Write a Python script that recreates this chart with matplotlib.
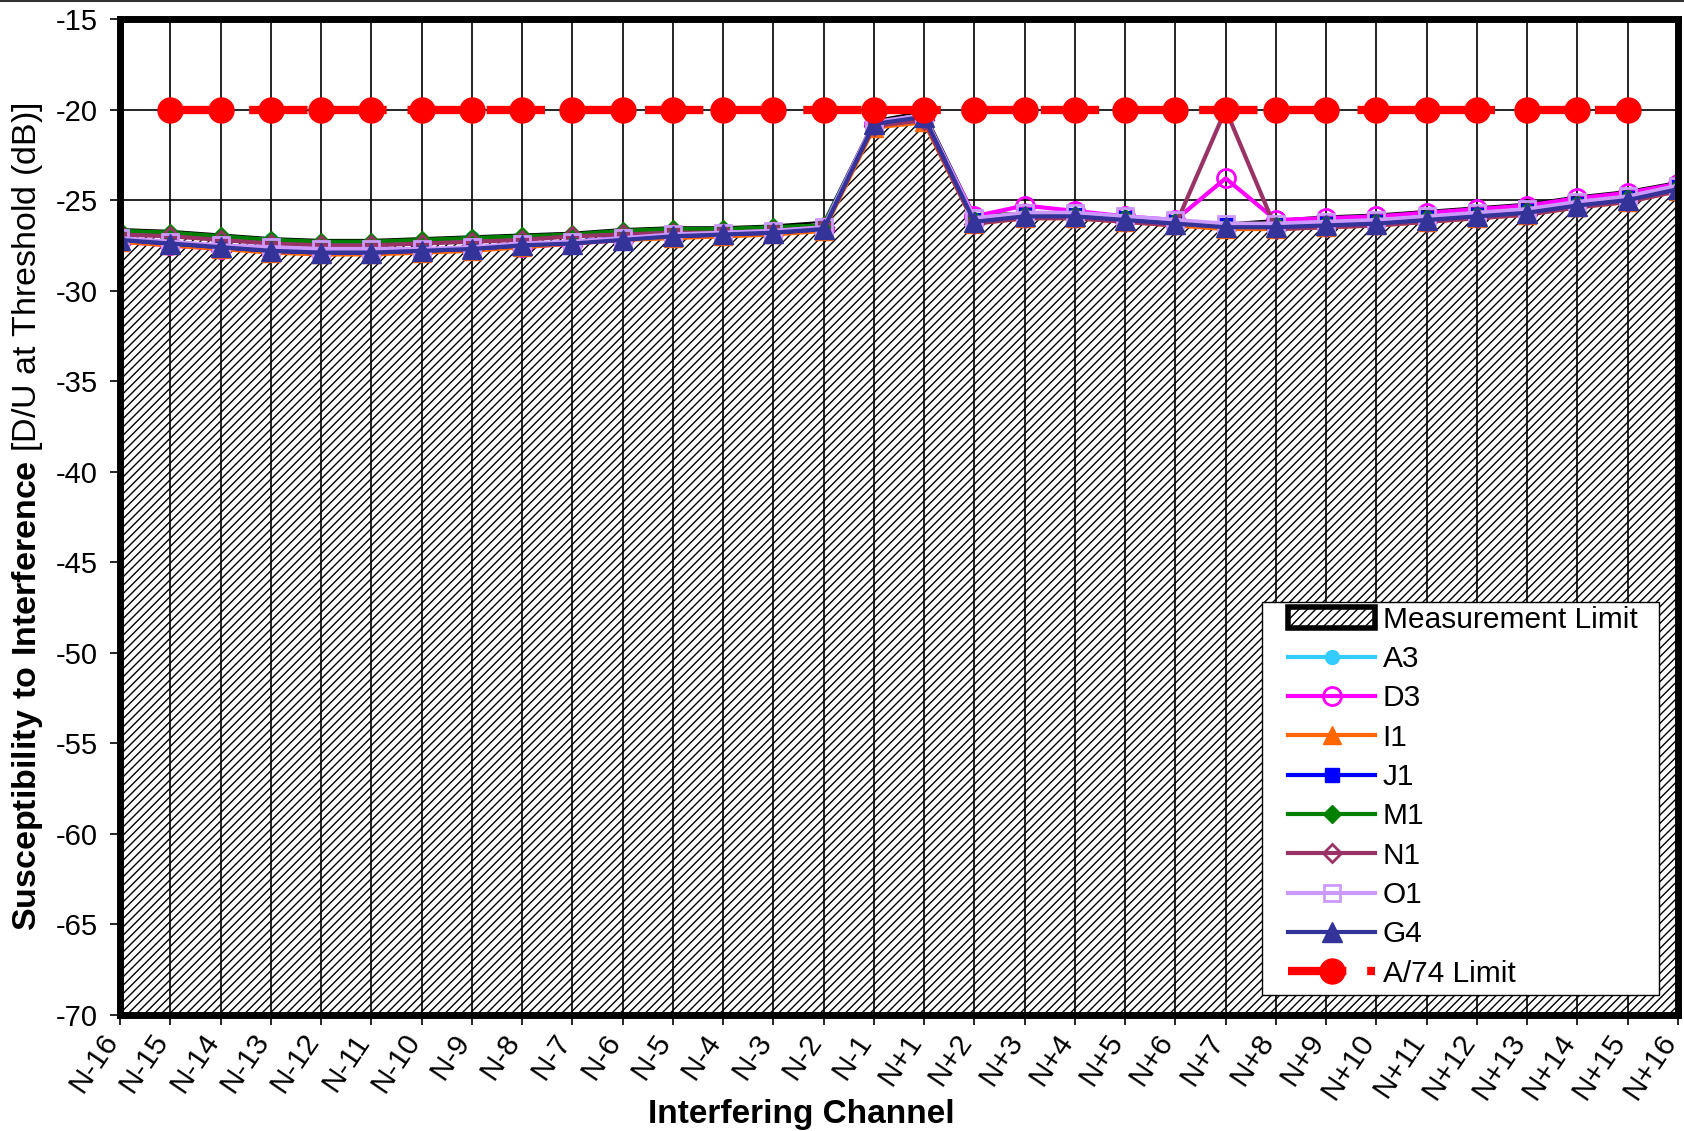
import numpy as np
import matplotlib
matplotlib.use("Agg")
import matplotlib.pyplot as plt
import matplotlib.transforms as mtransforms
from matplotlib.patches import Patch, Rectangle
from matplotlib.lines import Line2D

plt.rcParams['font.family'] = ['Liberation Sans', 'DejaVu Sans']
plt.rcParams['mathtext.fontset'] = 'custom'
plt.rcParams['mathtext.rm'] = 'Liberation Sans'
plt.rcParams['mathtext.bf'] = 'Liberation Sans:bold'
plt.rcParams['hatch.linewidth'] = 1.0
plt.rcParams['axes.unicode_minus'] = False

# channels
channels = [f"N-{i}" for i in range(16, 0, -1)] + [f"N+{i}" for i in range(1, 17)]

# values (dB)
meas_limit = [-26.6, -26.7, -26.9, -27.1, -27.2, -27.2, -27.1, -27.0, -26.9, -26.8, -26.6, -26.5, -26.5, -26.4, -26.2, -20.6,
              -20.1, -25.8, -25.7, -25.7, -25.9, -26.1, -26.3, -26.1, -25.9, -25.8, -25.6, -25.4, -25.2, -24.8, -24.5, -24.0]
a3 = [-26.8, -26.9, -27.1, -27.2, -27.4, -27.4, -27.3, -27.1, -27.1, -27.0, -26.8, -26.7, -26.7, -26.6, -26.4, -20.8,
      -20.5, -26.2, -25.9, -25.9, -26.1, -26.3, -26.6, -26.5, -26.4, -26.3, -26.1, -25.9, -25.7, -25.3, -25.0, -24.4]
d3 = [-27.3, -27.5, -27.7, -27.8, -27.9, -27.9, -27.8, -27.7, -27.6, -27.4, -27.2, -27.0, -26.9, -26.8, -26.6, -20.8,
      -20.4, -25.9, -25.3, -25.6, -25.9, -26.1, -23.8, -26.1, -26.0, -25.9, -25.7, -25.5, -25.3, -24.9, -24.6, -24.1]
i1 = [-27.3, -27.5, -27.7, -27.9, -28.0, -28.0, -27.9, -27.8, -27.6, -27.4, -27.2, -27.1, -27.0, -26.9, -26.7, -21.0,
      -20.7, -26.3, -26.0, -26.0, -26.2, -26.4, -26.6, -26.6, -26.5, -26.4, -26.2, -26.0, -25.8, -25.4, -25.1, -24.5]
j1 = [-27.2, -27.4, -27.6, -27.8, -27.9, -27.9, -27.8, -27.7, -27.5, -27.3, -27.1, -27.0, -26.9, -26.8, -26.6, -20.8,
      -20.5, -26.1, -25.8, -25.8, -26.0, -26.2, -26.4, -26.4, -26.3, -26.2, -26.0, -25.8, -25.6, -25.2, -24.9, -24.3]
m1 = [-26.7, -26.8, -27.0, -27.2, -27.3, -27.3, -27.2, -27.1, -27.0, -26.9, -26.7, -26.6, -26.6, -26.5, -26.4, -20.9,
      -20.5, -26.1, -25.8, -25.8, -26.0, -26.2, -26.5, -26.4, -26.3, -26.2, -26.0, -25.8, -25.6, -25.2, -24.9, -24.3]
n1 = [-26.9, -27.0, -27.2, -27.4, -27.5, -27.5, -27.4, -27.3, -27.2, -27.0, -26.9, -26.8, -26.8, -26.7, -26.5, -20.9,
      -20.6, -26.3, -26.0, -26.0, -26.2, -26.4, -20.0, -26.6, -26.5, -26.4, -26.2, -26.0, -25.8, -25.4, -25.1, -24.5]
o1 = [-27.1, -27.3, -27.5, -27.6, -27.7, -27.7, -27.7, -27.6, -27.4, -27.3, -27.1, -26.9, -26.8, -26.7, -26.5, -20.7,
      -20.3, -26.0, -25.7, -25.7, -25.9, -26.1, -26.3, -26.3, -26.2, -26.1, -25.9, -25.7, -25.5, -25.1, -24.8, -24.2]
g4 = [-27.2, -27.4, -27.6, -27.8, -27.9, -27.9, -27.8, -27.7, -27.5, -27.4, -27.2, -27.0, -26.9, -26.8, -26.6, -20.8,
      -20.4, -26.2, -25.9, -25.9, -26.1, -26.3, -26.5, -26.5, -26.4, -26.3, -26.1, -25.9, -25.7, -25.3, -25.0, -24.4]
# A/74 limit, not shown at N-16 / N+16
a74_limit = [np.nan, -20, -20, -20, -20, -20, -20, -20, -20, -20, -20, -20, -20, -20, -20, -20,
             -20, -20, -20, -20, -20, -20, -20, -20, -20, -20, -20, -20, -20, -20, -20, np.nan]

x = np.arange(len(channels))

fig = plt.figure(figsize=(16.84, 11.31), dpi=100)
ax = fig.add_axes([0.0713, 0.1026, 0.9251, 0.8806])

ax.set_xlim(0, len(channels) - 1)
ax.set_ylim(-70, -15)
ax.set_yticks(np.arange(-70, -14, 5))
ax.set_xticks(x)

# horizontal grid under the fill, vertical lines over it
ax.set_axisbelow(True)
ax.grid(axis='y', color='black', lw=1.2)
ax.fill_between(x, -70, meas_limit, facecolor='white', edgecolor='black', hatch='////', lw=1.5, zorder=1)
ax.vlines(x[1:-1], -70, -15, color='black', lw=1.2, zorder=1.5)

series = [
    ("A3", a3, dict(color='#33CCFF', marker='o', ms=10, mfc='#33CCFF')),
    ("D3", d3, dict(color='#FF00FF', marker='o', ms=13, mfc='none', mew=2)),
    ("I1", i1, dict(color='#FF6600', marker='^', ms=13, mfc='#FF6600')),
    ("J1", j1, dict(color='#0000FF', marker='s', ms=10, mfc='#0000FF')),
    ("M1", m1, dict(color='#008000', marker='D', ms=9, mfc='#008000')),
    ("N1", n1, dict(color='#993366', marker='D', ms=9, mfc='none', mew=2)),
    ("O1", o1, dict(color='#CC99FF', marker='s', ms=11, mfc='none', mew=2)),
    ("G4", g4, dict(color='#333399', marker='^', ms=15, mfc='#333399')),
]
handles = [Patch(facecolor='white', edgecolor='black', hatch='////', lw=4, label='Measurement Limit')]
for name, vals, style in series:
    line, = ax.plot(x, vals, lw=3, label=name, zorder=3, **style)
    handles.append(line)

red, = ax.plot(x, a74_limit, color='#FF0000', lw=6, marker='o', ms=18, dashes=(7, 2.5),
               label='A/74 Limit', zorder=4)
handles.append(red)

for s in ax.spines.values():
    s.set_linewidth(5)
    s.set_color('black')
    s.set_zorder(5)
ax.tick_params(axis='both', direction='out', length=7, width=1.2)
ax.tick_params(axis='x', pad=4, labelsize=21.5)
ax.tick_params(axis='y', pad=9, labelsize=21)
ax.set_xticklabels(channels, rotation=56, ha='right', va='center', rotation_mode='anchor')
shift = mtransforms.ScaledTranslation(-0.08, -0.06, fig.dpi_scale_trans)
for lbl in ax.get_xticklabels():
    lbl.set_transform(lbl.get_transform() + shift)

ax.set_xlabel("Interfering Channel", fontsize=24, fontweight='bold')
ax.xaxis.set_label_coords(0.437, -0.108)
ax.xaxis.label.set_va('baseline')
ax.set_ylabel(r"$\bf{Susceptibility\ to\ Interference}$ [D/U at Threshold (dB)]", fontsize=24.5)
ax.yaxis.set_label_coords(-0.048, 0.5)

# legend box drawn separately so the padding can match the original
ax.add_patch(Rectangle((0.733, 0.0205), 0.255, 0.3945, transform=ax.transAxes, facecolor='white',
                       edgecolor='black', lw=1.0, zorder=6))
leg = ax.legend(handles=handles, loc='upper left', bbox_to_anchor=(0.750, 0.411), borderaxespad=0,
                fontsize=21.5, frameon=False, labelspacing=0.38, handlelength=2.9,
                handletextpad=0.25, borderpad=0)
leg.set_zorder(7)

# thin border at the top of the image
fig.add_artist(Line2D([0, 1], [0.9995, 0.9995], color='#333333', lw=1.5))

fig.savefig("out.png", dpi=100)
